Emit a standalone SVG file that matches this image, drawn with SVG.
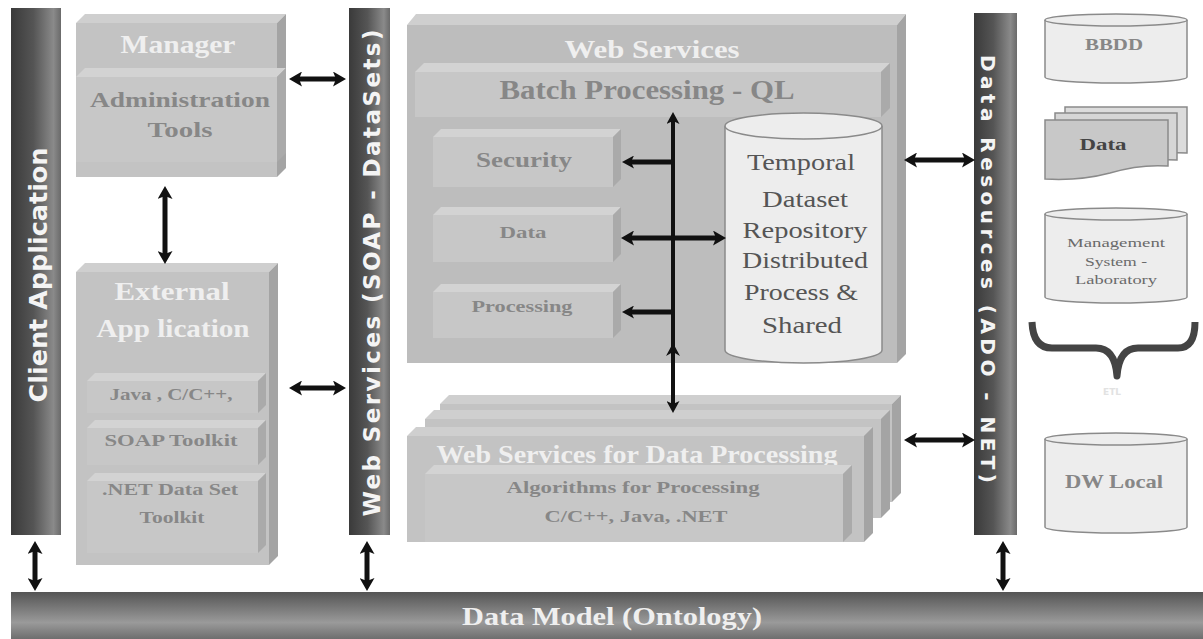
<svg xmlns="http://www.w3.org/2000/svg" width="1203" height="639" viewBox="0 0 1203 639">
  <defs>
    <linearGradient id="barV" x1="0" y1="0" x2="1" y2="0">
      <stop offset="0" stop-color="#3a3a3a"/>
      <stop offset="0.45" stop-color="#555"/>
      <stop offset="0.85" stop-color="#8a8a8a"/>
      <stop offset="1" stop-color="#6a6a6a"/>
    </linearGradient>
    <linearGradient id="barH" x1="0" y1="0" x2="0" y2="1">
      <stop offset="0" stop-color="#555"/>
      <stop offset="0.35" stop-color="#7a7a7a"/>
      <stop offset="0.65" stop-color="#9a9a9a"/>
      <stop offset="1" stop-color="#6e6e6e"/>
    </linearGradient>
    <marker id="ah" viewBox="0 0 13 15" refX="4" refY="7.5" markerWidth="13" markerHeight="15" markerUnits="userSpaceOnUse" orient="auto-start-reverse">
      <path d="M0,0 L13,7.5 L0,15 L3,7.5 Z" fill="#111"/>
    </marker>
    <marker id="ahs" viewBox="0 0 12 13" refX="4" refY="6.5" markerWidth="12" markerHeight="13" markerUnits="userSpaceOnUse" orient="auto-start-reverse">
      <path d="M0,0 L12,6.5 L0,13 L3,6.5 Z" fill="#111"/>
    </marker>
  </defs>
  <style>
    .front { fill: #c3c3c3; }
    .top { fill: #cfcfcf; }
    .side { fill: #a4a4a4; }
    .ifront { fill: #c7c7c7; }
    .itop { fill: #d3d3d3; }
    .iside { fill: #aaaaaa; }
    .ttl { font-family: "Liberation Serif", "Times New Roman", serif; font-weight: bold; fill: #efefef; text-anchor: middle; }
    .lbl { font-family: "Liberation Serif", "Times New Roman", serif; font-weight: bold; fill: #878787; text-anchor: middle; }
    .cylt { font-family: "Liberation Serif", "Times New Roman", serif; font-size: 24px; fill: #555; text-anchor: middle; }
    .mgmt { font-family: "Liberation Serif", "Times New Roman", serif; font-size: 13px; fill: #6a6a6a; text-anchor: middle; }
    .bart { font-family: "DejaVu Sans", Verdana, sans-serif; font-weight: bold; fill: #f4f4f4; text-anchor: middle; }
    .db { fill: #ededed; stroke: #8a8a8a; stroke-width: 1.5; }
    .doc { stroke: #8a8a8a; stroke-width: 1.5; }
    .arr { stroke: #111; stroke-width: 5; fill: none; marker-start: url(#ah); marker-end: url(#ah); }
    .arr1 { stroke: #111; stroke-width: 5; fill: none; marker-end: url(#ahs); }
  </style>

  <rect width="1203" height="639" fill="#fff"/>

  <!-- vertical layer bars -->
  <g id="client-application">
    <rect x="11" y="8" width="50" height="527" fill="url(#barV)"/>
    <text class="bart" x="47" y="275" font-size="25" textLength="255" lengthAdjust="spacingAndGlyphs" transform="rotate(-90 47 275)">Client Application</text>
  </g>
  <g id="web-services-bar">
    <rect x="349" y="8" width="41" height="527" fill="url(#barV)"/>
    <text class="bart" x="380" y="273" font-size="23" textLength="487" lengthAdjust="spacing" transform="rotate(-90 380 273)">Web Services (SOAP - DataSets)</text>
  </g>
  <g id="data-resources">
    <rect x="974" y="13" width="43" height="522" fill="url(#barV)"/>
    <text class="bart" x="981" y="269" font-size="20" textLength="428" lengthAdjust="spacing" transform="rotate(90 981 269)">Data Resources (ADO - NET)</text>
  </g>

  <!-- horizontal base bar -->
  <g id="data-model">
    <rect x="11" y="592" width="1192" height="47" fill="url(#barH)"/>
    <text class="ttl" x="612" y="625" font-size="26" textLength="300" lengthAdjust="spacingAndGlyphs">Data Model (Ontology)</text>
  </g>

  <!-- Manager -->
  <g id="manager">
    <polygon class="top" points="76,23 85,14 286,14 277,23"/>
    <polygon class="side" points="277,23 286,14 286,168 277,177"/>
    <rect class="front" x="76" y="23" width="201" height="154"/>
    <text class="ttl" x="178" y="53" font-size="25" textLength="115" lengthAdjust="spacingAndGlyphs">Manager</text>
    <g id="administration-tools">
      <polygon class="itop" points="76,77 85,68 286,68 277,77"/>
      <polygon class="iside" points="277,77 286,68 286,153 277,162"/>
      <rect class="ifront" x="76" y="77" width="201" height="85"/>
      <text class="lbl" x="180" y="107" font-size="22" textLength="180" lengthAdjust="spacingAndGlyphs">Administration</text>
      <text class="lbl" x="180" y="137" font-size="22" textLength="65" lengthAdjust="spacingAndGlyphs">Tools</text>
    </g>
  </g>

  <!-- External Application -->
  <g id="external-application">
    <polygon class="top" points="76,272 85,263 278,263 269,272"/>
    <polygon class="side" points="269,272 278,263 278,556 269,565"/>
    <rect class="front" x="76" y="272" width="193" height="293"/>
    <text class="ttl" x="172" y="300" font-size="26" textLength="115" lengthAdjust="spacingAndGlyphs">External</text>
    <text class="ttl" x="173" y="337" font-size="26" textLength="153" lengthAdjust="spacingAndGlyphs">App lication</text>
    <g id="java-cpp">
      <polygon class="itop" points="87,381 95,373 266,373 258,381"/>
      <polygon class="iside" points="258,381 266,373 266,405 258,413"/>
      <rect class="ifront" x="87" y="381" width="171" height="32"/>
      <text class="lbl" x="171" y="400" font-size="17" textLength="123" lengthAdjust="spacingAndGlyphs">Java , C/C++,</text>
    </g>
    <g id="soap-toolkit">
      <polygon class="itop" points="87,428 95,420 266,420 258,428"/>
      <polygon class="iside" points="258,428 266,420 266,457 258,465"/>
      <rect class="ifront" x="87" y="428" width="171" height="37"/>
      <text class="lbl" x="171" y="446" font-size="17" textLength="133" lengthAdjust="spacingAndGlyphs">SOAP Toolkit</text>
    </g>
    <g id="net-dataset-toolkit">
      <polygon class="itop" points="87,481 95,473 266,473 258,481"/>
      <polygon class="iside" points="258,481 266,473 266,545 258,553"/>
      <rect class="ifront" x="87" y="481" width="171" height="72"/>
      <text class="lbl" x="170" y="495" font-size="17" textLength="136" lengthAdjust="spacingAndGlyphs">.NET Data Set</text>
      <text class="lbl" x="172" y="523" font-size="17" textLength="65" lengthAdjust="spacingAndGlyphs">Toolkit</text>
    </g>
  </g>

  <!-- Web Services core -->
  <g id="web-services">
    <polygon class="top" points="407,25 416,14 906,14 897,25"/>
    <polygon class="side" points="897,25 906,14 906,354 897,363"/>
    <rect x="407" y="25" width="490" height="338" fill="#bdbdbd"/>
    <text class="ttl" x="652" y="58" font-size="26" textLength="175" lengthAdjust="spacingAndGlyphs">Web Services</text>
    <g id="batch-processing">
      <polygon class="itop" points="415,72 424,63 890,63 881,72"/>
      <polygon class="iside" points="881,72 890,63 890,108 881,117"/>
      <rect class="ifront" x="415" y="72" width="466" height="45"/>
      <text class="lbl" x="647" y="99" font-size="28" textLength="295" lengthAdjust="spacingAndGlyphs">Batch Processing - QL</text>
    </g>
    <g id="security">
      <polygon class="itop" points="433,137 441,129 621,129 613,137"/>
      <polygon class="iside" points="613,137 621,129 621,179 613,187"/>
      <rect class="ifront" x="433" y="137" width="180" height="50"/>
      <text class="lbl" x="524" y="167" font-size="21" textLength="96" lengthAdjust="spacingAndGlyphs">Security</text>
    </g>
    <g id="data-service">
      <polygon class="itop" points="433,215 441,207 621,207 613,215"/>
      <polygon class="iside" points="613,215 621,207 621,254 613,262"/>
      <rect class="ifront" x="433" y="215" width="180" height="47"/>
      <text class="lbl" x="523" y="238" font-size="17" textLength="47" lengthAdjust="spacingAndGlyphs">Data</text>
    </g>
    <g id="processing">
      <polygon class="itop" points="433,292 441,284 621,284 613,292"/>
      <polygon class="iside" points="613,292 621,284 621,330 613,338"/>
      <rect class="ifront" x="433" y="292" width="180" height="46"/>
      <text class="lbl" x="522" y="312" font-size="17" textLength="101" lengthAdjust="spacingAndGlyphs">Processing</text>
    </g>
    <g id="temporal-dataset-repository">
      <path class="db" d="M725,126 A78.5,13 0 0 1 882,126 V350 A78.5,13 0 0 1 725,350 Z"/>
      <path class="db" fill="none" d="M725,126 A78.5,13 0 0 0 882,126"/>
      <text class="cylt" x="801" y="170" textLength="108" lengthAdjust="spacingAndGlyphs">Temporal</text>
      <text class="cylt" x="805" y="207" textLength="86" lengthAdjust="spacingAndGlyphs">Dataset</text>
      <text class="cylt" x="805" y="238" textLength="125" lengthAdjust="spacingAndGlyphs">Repository</text>
      <text class="cylt" x="805" y="268" textLength="126" lengthAdjust="spacingAndGlyphs">Distributed</text>
      <text class="cylt" x="801" y="300" textLength="114" lengthAdjust="spacingAndGlyphs">Process &amp;</text>
      <text class="cylt" x="802" y="333" textLength="80" lengthAdjust="spacingAndGlyphs">Shared</text>
    </g>
  </g>

  <!-- Web Services for Data Processing (stacked instances) -->
  <g id="web-services-data-processing">
    <polygon class="top" points="440,404 449,395 901,395 892,404"/>
    <polygon class="side" points="892,404 901,395 901,493 892,502"/>
    <rect class="front" x="440" y="404" width="452" height="98"/>
    <polygon class="top" points="425,419 434,410 890,410 881,419"/>
    <polygon class="side" points="881,419 890,410 890,509 881,518"/>
    <rect class="front" x="425" y="419" width="456" height="99"/>
    <polygon class="top" points="407,436 416,427 873,427 864,436"/>
    <polygon class="side" points="864,436 873,427 873,533 864,542"/>
    <rect class="front" x="407" y="436" width="457" height="106"/>
    <text class="ttl" x="637" y="463" font-size="26" textLength="401" lengthAdjust="spacingAndGlyphs">Web Services for Data Processing</text>
    <g id="algorithms">
      <polygon class="itop" points="425,474 434,465 852,465 843,474"/>
      <polygon class="iside" points="843,474 852,465 852,533 843,542"/>
      <rect class="ifront" x="425" y="474" width="418" height="68"/>
      <text class="lbl" x="633" y="493" font-size="17" textLength="253" lengthAdjust="spacingAndGlyphs">Algorithms for Processing</text>
      <text class="lbl" x="636" y="522" font-size="17" textLength="183" lengthAdjust="spacingAndGlyphs">C/C++, Java, .NET</text>
    </g>
  </g>

  <!-- external data sources -->
  <g id="bbdd">
    <path class="db" d="M1045,20 A71,6 0 0 1 1187,20 V77 A71,6 0 0 1 1045,77 Z"/>
    <path class="db" fill="none" d="M1045,20 A71,6 0 0 0 1187,20"/>
    <text class="lbl" x="1114" y="50" font-size="16" textLength="58" lengthAdjust="spacingAndGlyphs">BBDD</text>
  </g>
  <g id="data-files">
    <path class="doc" d="M1065,107 H1187 V153 Q1160,151 1130,160 Q1100,168 1065,166 Z" fill="#dcdcdc"/>
    <path class="doc" d="M1055,113 H1177 V160 Q1150,158 1120,167 Q1090,175 1055,173 Z" fill="#d6d6d6"/>
    <path class="doc" d="M1045,120 H1168 V166 Q1140,164 1110,173 Q1080,181 1045,179 Z" fill="#c8c8c8"/>
    <text class="lbl" x="1103" y="150" font-size="17" style="fill:#444" textLength="47" lengthAdjust="spacingAndGlyphs">Data</text>
  </g>
  <g id="management-system">
    <path class="db" d="M1045,214 A71,6 0 0 1 1187,214 V297 A71,6 0 0 1 1045,297 Z"/>
    <path class="db" fill="none" d="M1045,214 A71,6 0 0 0 1187,214"/>
    <text class="mgmt" x="1116" y="247" textLength="98" lengthAdjust="spacingAndGlyphs">Management</text>
    <text class="mgmt" x="1116" y="266" textLength="62" lengthAdjust="spacingAndGlyphs">System -</text>
    <text class="mgmt" x="1116" y="284" textLength="82" lengthAdjust="spacingAndGlyphs">Laboratory</text>
  </g>
  <g id="etl">
    <path d="M1032,322 Q1033,348 1052,348 H1096 Q1115,348 1117,376 Q1119,348 1138,348 H1178 Q1195,348 1195,322" fill="none" stroke="#444" stroke-width="7" stroke-linejoin="round"/>
    <text x="1112" y="395" font-family="DejaVu Sans, sans-serif" font-weight="bold" font-size="9" fill="#e2e2e2" text-anchor="middle">ETL</text>
  </g>
  <g id="dw-local">
    <path class="db" d="M1045,439 A71,6 0 0 1 1187,439 V527 A71,6 0 0 1 1045,527 Z"/>
    <path class="db" fill="none" d="M1045,439 A71,6 0 0 0 1187,439"/>
    <text class="lbl" x="1114" y="488" font-size="19" textLength="98" lengthAdjust="spacingAndGlyphs">DW Local</text>
  </g>

  <!-- connectors -->
  <g id="connectors">
    <line class="arr" x1="298" y1="79" x2="337" y2="79"/>
    <line class="arr" x1="165" y1="195" x2="165" y2="255" stroke-width="7"/>
    <line class="arr" x1="298" y1="388" x2="337" y2="388"/>
    <line class="arr" x1="35" y1="550" x2="35" y2="582"/>
    <line class="arr" x1="367" y1="550" x2="367" y2="582"/>
    <line class="arr" x1="1003" y1="550" x2="1003" y2="582"/>
    <line class="arr" x1="913" y1="160" x2="966" y2="160"/>
    <line class="arr" x1="913" y1="440" x2="966" y2="440"/>
    <line x1="673" y1="120" x2="673" y2="405" stroke="#111" stroke-width="4" marker-start="url(#ahs)" marker-end="url(#ahs)"/>
    <path d="M666,356 L673,343 L680,356 L673,352 Z" fill="#111"/>
    <line class="arr1" x1="673" y1="162" x2="630" y2="162"/>
    <line class="arr" x1="630" y1="238" x2="717" y2="238" stroke-width="7"/>
    <line class="arr1" x1="673" y1="312" x2="630" y2="312"/>
  </g>
</svg>
